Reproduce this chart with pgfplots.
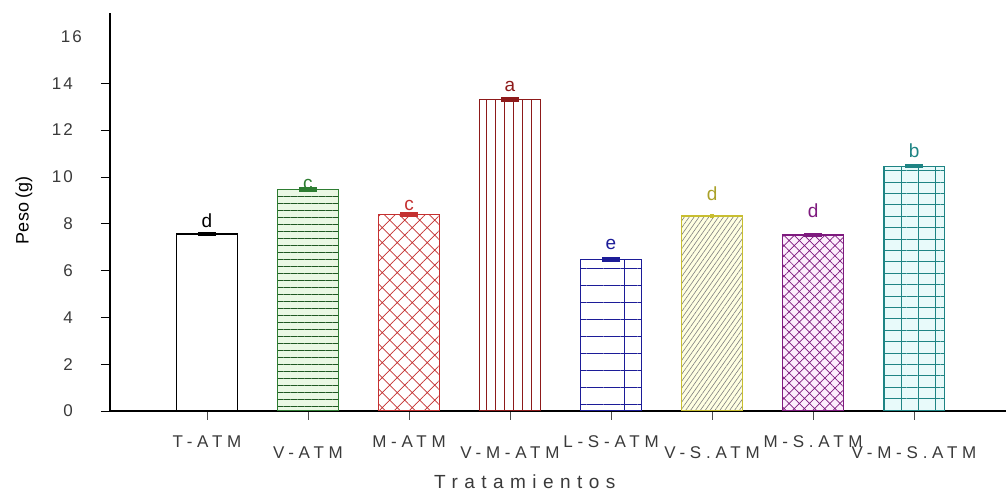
\documentclass[border=0pt]{standalone}
\usepackage{fontspec}
\setmainfont{Liberation Sans}
\newfontfamily\spaced[LetterSpace=28]{Liberation Sans}
\newfontfamily\spacedx[LetterSpace=34]{Liberation Sans}
\newfontfamily\spacedy[LetterSpace=12]{Liberation Sans}
\usepackage{pgfplots}
\pgfplotsset{compat=1.18}
\usetikzlibrary{patterns.meta}
\definecolor{cgreen}{HTML}{2E7D32}
\definecolor{cgreenf}{HTML}{EAF8E4}
\definecolor{cred}{HTML}{C43030}
\definecolor{cdred}{HTML}{8E1A1A}
\definecolor{cblue}{HTML}{1C1C98}
\definecolor{cyel}{HTML}{C8BE30}
\definecolor{cyelf}{HTML}{FFFFE2}
\definecolor{cpur}{HTML}{7E1A7E}
\definecolor{cpurf}{HTML}{FCEEFC}
\definecolor{cteal}{HTML}{1E8484}
\definecolor{ctealf}{HTML}{E8FAFA}
\definecolor{ctext}{HTML}{3A3A3A}
\begin{document}
\begin{tikzpicture}
\begin{axis}[
  scale only axis,
  width=448pt, height=199pt,
  xmin=-0.96, xmax=7.91,
  ymin=0, ymax=17,
  axis lines*=left,
  axis line style={line width=0.7pt},
  ytick={0,2,4,6,8,10,12,14},
  yticklabels={0,2,4,6,8,10,12,14},
  extra y ticks={16},
  extra y tick labels={16},
  extra y tick style={major tick length=0pt},
  yticklabel style={font=\spacedy\fontsize{8.5}{10}\selectfont, color=ctext, xshift=-10.5pt},
  xtick={0,...,7},
  xticklabels={T-ATM,\raisebox{-5.5pt}{V-ATM},M-ATM,\raisebox{-5.5pt}{V-M-ATM},L-S-ATM,\raisebox{-5.5pt}{V-S.ATM},M-S.ATM,\raisebox{-5.5pt}{V-M-S.ATM}},
  xticklabel style={font=\spaced\fontsize{8.5}{10}\selectfont, color=ctext, anchor=north, inner sep=0pt, text height=6pt, text depth=0pt, yshift=-7.5pt},
  tick align=outside,
  major tick length=4.5pt,
  x tick style={color=black!70},
  y tick style={color=black},
  xlabel={Tratamientos},
  xlabel style={font=\spacedx\fontsize{9.5}{11}\selectfont, color=ctext, at={(axis description cs:0.463,0)}, anchor=center, yshift=-35.5pt},
  ylabel={Peso (g)},
  ylabel style={font=\fontsize{9}{11}\selectfont, at={(axis description cs:-0.096,0.505)}, anchor=center},
  ybar, bar width=30.5pt, bar shift=0pt,
  nodes near coords,
  point meta=explicit symbolic,
  nodes near coords style={font=\fontsize{9.5}{10}\selectfont, anchor=south, yshift=-0.5pt},
  error bars/y dir=both, error bars/y explicit,
  error bars/error mark options={rotate=90, mark size=4.5pt, line width=1.2pt},
  error bars/error bar style={line width=1pt},
]
% T-ATM
\addplot[draw=black, fill=white, line width=0.6pt,
  nodes near coords style={text=black},
  error bars/error bar style={black}, error bars/error mark options={rotate=90, mark size=4.5pt, line width=1.2pt, black}]
  coordinates {(0,7.56) +- (0,0.04) [d]};
% V-ATM
\addplot[draw=cgreen, fill=cgreenf, line width=0.6pt,
  postaction={pattern={Lines[angle=0,distance=3.5pt,line width=0.45pt]}, pattern color=cgreen!70!black},
  nodes near coords style={text=cgreen, yshift=-3.5pt},
  error bars/error bar style={cgreen}, error bars/error mark options={rotate=90, mark size=4.5pt, line width=1.2pt, cgreen}]
  coordinates {(1,9.47) +- (0,0.05) [c]};
% M-ATM
\addplot[draw=cred, fill=white, line width=0.6pt,
  postaction={pattern={Hatch[angle=45,distance=5.3pt,line width=0.35pt]}, pattern color=cred},
  nodes near coords style={text=cred, yshift=-1pt},
  error bars/error bar style={cred}, error bars/error mark options={rotate=90, mark size=4.5pt, line width=1.2pt, cred}]
  coordinates {(2,8.39) +- (0,0.05) [c]};
% V-M-ATM
\addplot[draw=cdred, fill=white, line width=0.6pt,
  postaction={pattern={Lines[angle=90,distance=4.5pt,line width=0.45pt]}, pattern color=cdred},
  nodes near coords style={text=cdred, yshift=1pt},
  error bars/error bar style={cdred}, error bars/error mark options={rotate=90, mark size=4.5pt, line width=1.2pt, cdred}]
  coordinates {(3,13.30) +- (0,0.05) [a]};
% L-S-ATM
\addplot[draw=cblue, fill=white, line width=0.6pt,
  postaction={pattern={Lines[angle=0,distance=8.5pt,line width=0.5pt]}, pattern color=cblue},
  postaction={pattern={Lines[angle=90,distance=24pt,line width=0.5pt]}, pattern color=cblue},
  nodes near coords style={text=cblue, yshift=2pt},
  error bars/error bar style={cblue}, error bars/error mark options={rotate=90, mark size=4.5pt, line width=1.2pt, cblue}]
  coordinates {(4,6.47) +- (0,0.04) [e]};
% V-S.ATM
\addplot[draw=cyel, fill=cyelf, line width=0.6pt,
  postaction={pattern={Lines[angle=55,distance=2pt,line width=0.3pt]}, pattern color=black!50},
  nodes near coords style={text=cyel!85!black, yshift=4.5pt},
  error bars/error bar style={cyel}, error bars/error mark options={rotate=90, mark size=1pt, line width=1pt, cyel}]
  coordinates {(5,8.33) +- (0,0.03) [d]};
% M-S.ATM
\addplot[draw=cpur, fill=cpurf, line width=0.6pt,
  postaction={pattern={Hatch[angle=45,distance=3.6pt,line width=0.35pt]}, pattern color=cpur},
  nodes near coords style={text=cpur, yshift=5.5pt},
  error bars/error bar style={cpur}, error bars/error mark options={rotate=90, mark size=4.5pt, line width=1.2pt, cpur}]
  coordinates {(6,7.52) +- (0,0.05) [d]};
% V-M-S.ATM
\addplot[draw=cteal, fill=ctealf, line width=0.6pt,
  postaction={pattern={Lines[angle=0,distance=5.7pt,line width=0.5pt]}, pattern color=cteal},
  postaction={pattern={Lines[angle=90,distance=8.5pt,line width=0.5pt]}, pattern color=cteal},
  nodes near coords style={text=cteal, yshift=1pt},
  error bars/error bar style={cteal}, error bars/error mark options={rotate=90, mark size=4.5pt, line width=1.2pt, cteal}]
  coordinates {(7,10.46) +- (0,0.05) [b]};
\end{axis}
\pgfresetboundingbox
\path[use as bounding box] (-55pt,-39.5pt) rectangle (448pt,205.5pt);
\end{tikzpicture}
\end{document}
